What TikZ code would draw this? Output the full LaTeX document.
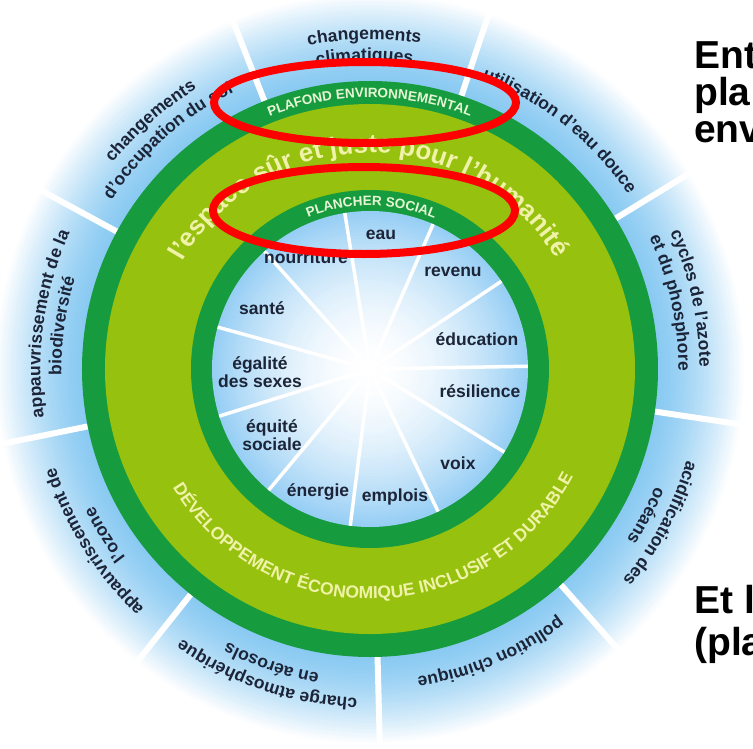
\documentclass[tikz,border=0pt]{standalone}
\usepackage{fontspec}
\setmainfont{Liberation Sans}
\usetikzlibrary{decorations.text}

\definecolor{ringgreen}{RGB}{22,156,62}
\definecolor{bandgreen}{RGB}{150,193,14}
\definecolor{haloblue}{RGB}{138,202,242}
\definecolor{coreblue}{RGB}{150,206,244}
\definecolor{labelink}{RGB}{28,36,56}
\definecolor{bandyellow}{RGB}{240,242,168}
\definecolor{ringwhite}{RGB}{232,246,214}

\newcommand{\outerfont}{\bfseries\fontsize{17.5}{18}\selectfont\color{labelink}}
\newcommand{\ringfont}{\bfseries\fontsize{13.5}{14}\selectfont\color{ringwhite}}
\newcommand{\bandfont}{\bfseries\fontsize{26}{27}\selectfont\color{bandyellow}}
\newcommand{\devfont}{\bfseries\fontsize{17.5}{18}\selectfont\color{bandyellow}}

% text on a circle round the centre: angle, radius, font, text
\newcommand{\cwtext}[4]{\path[decorate, decoration={text along path, text align=center, text={|#3|#4}}]
  ({#1+88}:#2) arc[start angle={#1+88}, end angle={#1-88}, radius=#2];}
\newcommand{\ccwtext}[4]{\path[decorate, decoration={text along path, text align=center, text={|#3|#4}}]
  ({#1-88}:#2) arc[start angle={#1-88}, end angle={#1+88}, radius=#2];}

\tikzset{
  outerspoke/.style={white, line width=6pt},
  innerspoke/.style={white, line width=3.5pt},
  socialtxt/.style={font=\bfseries\fontsize{17.5}{18.5}\selectfont, text=labelink, align=center, inner sep=0pt},
  slidetxt/.style={font=\bfseries\fontsize{39}{44}\selectfont, anchor=base west, inner sep=0pt},
  redloop/.style={draw=red, line width=8pt}
}

\begin{document}
\begin{tikzpicture}[x=1pt, y=1pt]
\clip (-370,-379) rectangle (383,369);

% blue halo
\foreach \rad in {376,374,...,288} {
  \pgfmathsetmacro{\p}{100*(1-((\rad-288)/88)^1.4)}
  \fill[haloblue!\p!white] (0,0) circle (\rad);
}
\foreach \a in {31.5,71.5,...,351.5}
  \draw[outerspoke] (\a:288) -- (\a:390);

% doughnut
\fill[ringgreen] (0,0) circle (288);
\fill[bandgreen] (0,0) circle (265);
\fill[ringgreen] (0,0) circle (179);
\foreach \rad in {158,155,...,2} {
  \pgfmathsetmacro{\p}{100*(\rad/158)^1.8}
  \fill[coreblue!\p!white] (0,0) circle (\rad);
}
\foreach \i in {0,...,10}
  \draw[innerspoke] (0,0) -- ({1+\i*360/11}:158);

% planetary boundaries
\cwtext{91}{329.5}{\outerfont}{changements}
\cwtext{91}{308.5}{\outerfont}{climatiques}
\cwtext{51.5}{311.5}{\outerfont}{utilisation d'eau douce}
\cwtext{12.4}{329.5}{\outerfont}{cycles de l'azote}
\cwtext{12.4}{308.5}{\outerfont}{et du phosphore}
\cwtext{-28}{329.5}{\outerfont}{acidification des}
\cwtext{-28}{308.5}{\outerfont}{océans}
\cwtext{-67}{311.5}{\outerfont}{pollution chimique}
\cwtext{-108.5}{329.5}{\outerfont}{charge atmosphérique}
\cwtext{-108.5}{308.5}{\outerfont}{en aérosols}
\cwtext{-148}{329.5}{\outerfont}{appauvrissement de}
\cwtext{-148}{308.5}{\outerfont}{l'ozone}
\cwtext{172}{329.5}{\outerfont}{appauvrissement de la}
\cwtext{172}{308.5}{\outerfont}{biodiversité}
\cwtext{131.5}{329.5}{\outerfont}{changements}
\cwtext{131.5}{308.5}{\outerfont}{d'occupation du sol}

% ring texts
\cwtext{90}{271.5}{\ringfont}{PLAFOND ENVIRONNEMENTAL}
\cwtext{89.5}{163.5}{\ringfont}{PLANCHER SOCIAL}
\cwtext{90.5}{216}{\bandfont}{l'espace sûr et juste pour l'humanité}
\ccwtext{271.5}{230}{\devfont}{DÉVELOPPEMENT ÉCONOMIQUE INCLUSIF ET DURABLE}

% social foundation
\node[socialtxt] (eau) at (11,134) {eau};
\node[socialtxt] (nourriture) at (-64,112) {nourriture};
\node[socialtxt] (revenu) at (83,97) {revenu};
\node[socialtxt] (sante) at (-108,61) {santé};
\node[socialtxt] (education) at (107,30) {éducation};
\node[socialtxt] (egalite) at (-110,-3) {égalité\\des sexes};
\node[socialtxt] (resilience) at (110,-22) {résilience};
\node[socialtxt] (equite) at (-98,-66) {équité\\sociale};
\node[socialtxt] (voix) at (88,-94) {voix};
\node[socialtxt] (energie) at (-52,-123) {énergie};
\node[socialtxt] (emplois) at (25,-128) {emplois};

% slide text, cut by the right edge
\node[slidetxt] (ent) at (324,301) {Ent};
\node[slidetxt] (pla) at (324,264) {pla};
\node[slidetxt] (env) at (324,227) {env};
\node[slidetxt] (etl) at (324,-244) {Et l};
\node[slidetxt] (plb) at (324,-286) {(pla};

% red marks
\draw[redloop] (-5,266.5) ellipse [x radius=151, y radius=40.5];
\draw[redloop] (-6,158.5) ellipse [x radius=151, y radius=43.5];
\end{tikzpicture}
\end{document}
